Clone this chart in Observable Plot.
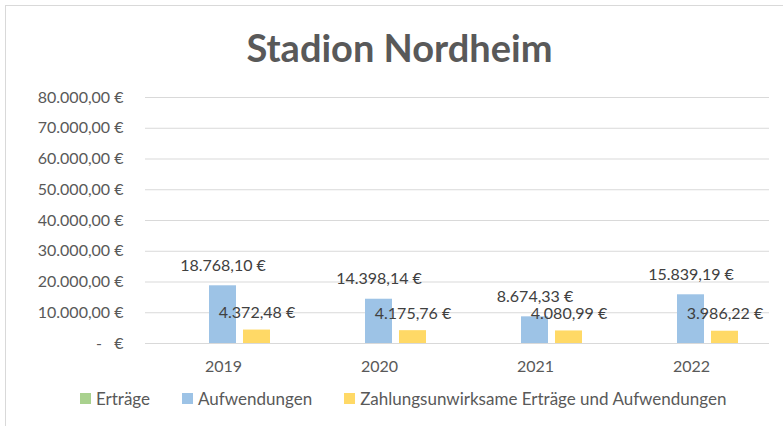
<!DOCTYPE html>
<html><head><meta charset="utf-8">
<script src="https://cdn.jsdelivr.net/npm/d3@7"></script>
<script src="https://cdn.jsdelivr.net/npm/@observablehq/plot@0.6"></script>
<style>
body{margin:0;background:#fff;font-family:Lato,sans-serif;overflow:hidden;width:783px;height:426px;position:relative}
#frame{position:absolute;left:5px;top:5px;width:900px;height:500px;border:1px solid #d9d9d9;box-sizing:border-box}
#title{position:absolute;left:0;width:783px;top:28px;line-height:38px;text-align:center;font-family:Lato;font-weight:bold;font-size:38px;color:#595959;padding-left:16px;box-sizing:border-box}
#chart{position:absolute;left:0;top:0}
#legend{position:absolute;left:80px;top:382px}
#legend .lg-swatch{margin-right:32px}
#legend .lg-swatch > svg{margin-right:5px}
</style>
</head><body>
<div id="frame"></div>
<div id="title">Stadion Nordheim</div>
<div id="chart"></div>
<div id="legend"></div>
<script>
const years = ["2019", "2020", "2021", "2022"];
const series = ["Erträge", "Aufwendungen", "Zahlungsunwirksame Erträge und Aufwendungen"];
const colors = ["#A9D18E", "#9DC3E6", "#FFD966"];
const ertraege = [0, 0, 0, 0];
const aufwendungen = [18768.10, 14398.14, 8674.33, 15839.19];
const zahlungsunwirksam = [4372.48, 4175.76, 4080.99, 3986.22];
const yTicks = [0, 10000, 20000, 30000, 40000, 50000, 60000, 70000, 80000];

const values = [ertraege, aufwendungen, zahlungsunwirksam];
const data = [];
years.forEach((yr, i) => series.forEach((s, j) => data.push({year: yr, series: s, value: values[j][i]})));

const loc = d3.formatLocale({decimal: ",", thousands: ".", grouping: [3], currency: ["", " €"]});
const fmt = v => loc.format(",.2f")(v) + " €";
const tickFmt = v => v === 0 ? "-\u00a0\u00a0\u00a0€" : fmt(v);

const plot = Plot.plot({
  width: 783,
  height: 380,
  marginLeft: 145,
  marginRight: 14,
  marginTop: 97,
  marginBottom: 37,
  style: {fontFamily: "Lato", fontSize: "16px", color: "#595959", background: "transparent"},
  fx: {domain: years, padding: 0, axis: "bottom", tickSize: 0, tickPadding: 17, label: null},
  x: {domain: series, paddingInner: 0.2, paddingOuter: 0.86, axis: null},
  y: {domain: [0, 80000], ticks: yTicks, tickFormat: tickFmt, tickSize: 0, tickPadding: 22, label: null},
  color: {domain: series, range: colors},
  marks: [
    Plot.ruleY(yTicks, {stroke: "#d9d9d9", strokeWidth: 1}),
    Plot.barY(data, {fx: "year", x: "series", y: "value", fill: "series"}),
    Plot.text(data.filter(d => d.series === series[1]), {fx: "year", x: "series", y: "value", text: d => fmt(d.value), dy: -20, fill: "#404040", fontSize: 16}),
    Plot.text(data.filter(d => d.series === series[2]), {fx: "year", x: "series", y: "value", text: d => fmt(d.value), dy: -17, fill: "#404040", fontSize: 16})
  ]
});
document.getElementById("chart").appendChild(plot);

const legend = Plot.legend({
  color: {domain: series, range: colors},
  swatchSize: 11,
  className: "lg",
  style: {fontFamily: "Lato", fontSize: "17px", color: "#595959"}
});
document.getElementById("legend").appendChild(legend);
</script>
</body></html>
